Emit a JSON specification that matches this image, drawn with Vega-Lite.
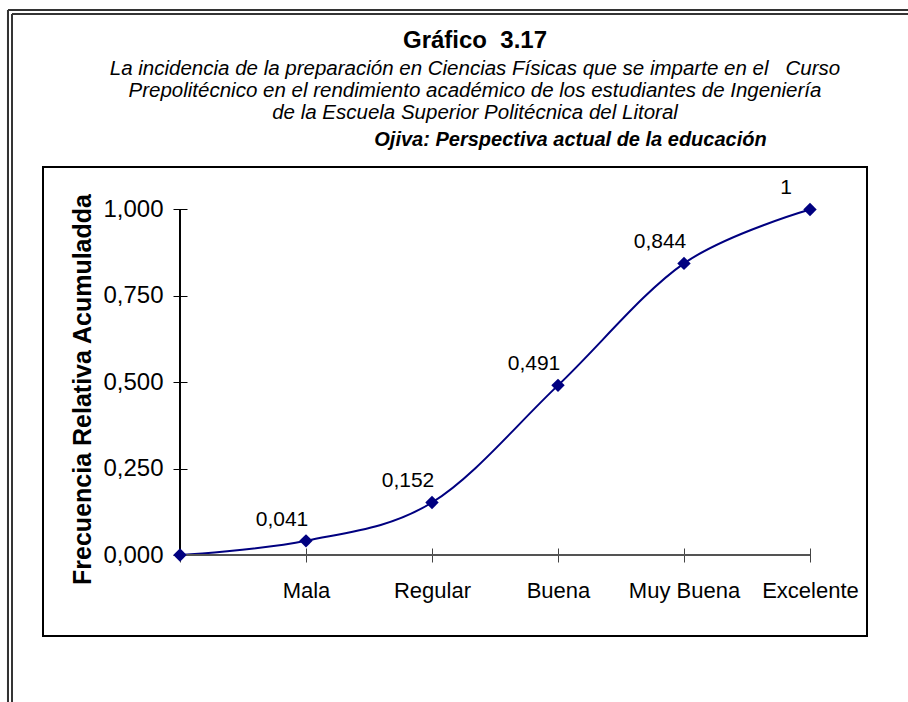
{
  "$schema": "https://vega.github.io/schema/vega-lite/v6.json",
  "width": 824,
  "height": 469,
  "autosize": {"type": "none"},
  "padding": {"left": 43, "top": 167, "right": 41, "bottom": 66},
  "background": "white",
  "config": {
    "font": "Liberation Sans",
    "locale": {"number": {"decimal": ",", "thousands": ".", "grouping": [3], "currency": ["$", ""]}},
    "view": {"stroke": "black", "strokeWidth": 2}
  },
  "title": {
    "text": "Gráfico\u00a0\u00a03.17",
    "subtitle": [
      "La incidencia de la preparación en Ciencias Físicas que se imparte en el\u00a0\u00a0 Curso",
      "Prepolitécnico en el rendimiento académico de los estudiantes de Ingeniería",
      "de la Escuela Superior Politécnica del Litoral"
    ],
    "font": "Liberation Sans",
    "fontSize": 24,
    "fontWeight": "bold",
    "color": "black",
    "subtitleFont": "Liberation Sans",
    "subtitleFontSize": 20.5,
    "subtitleFontStyle": "italic",
    "subtitleColor": "black",
    "subtitleLineHeight": 22,
    "subtitlePadding": 6,
    "anchor": "middle",
    "frame": "group",
    "offset": 0,
    "dx": 20,
    "dy": 115
  },
  "data": {
    "values": [
      {"k": 0, "cat": "", "v": 0},
      {"k": 1, "cat": "Mala", "v": 0.041},
      {"k": 2, "cat": "Regular", "v": 0.152},
      {"k": 3, "cat": "Buena", "v": 0.491},
      {"k": 4, "cat": "Muy Buena", "v": 0.844},
      {"k": 5, "cat": "Excelente", "v": 1}
    ]
  },
  "resolve": {"axis": {"x": "independent"}},
  "layer": [
    {
      "mark": {"type": "line", "color": "#000080", "strokeWidth": 2, "interpolate": "cardinal"},
      "encoding": {
        "x": {
          "field": "k",
          "type": "quantitative",
          "scale": {"domain": [-1.0873, 5.4524], "nice": false, "zero": false},
          "axis": {
            "orient": "bottom",
            "values": [0, 1, 2, 3, 4, 5],
            "offset": -88,
            "domain": false,
            "grid": false,
            "tickSize": 14,
            "tickColor": "#444444",
            "tickWidth": 1,
            "labelExpr": "['', 'Mala', 'Regular', 'Buena', 'Muy Buena', 'Excelente'][datum.value]",
            "labelFont": "Liberation Sans",
            "labelFontSize": 22,
            "labelColor": "black",
            "labelPadding": 18,
            "labelFlush": false,
            "labelOverlap": false,
            "title": null
          }
        },
        "y": {
          "field": "v",
          "type": "quantitative",
          "scale": {"domain": [-0.2344, 1.123], "nice": false, "zero": false},
          "axis": {
            "values": [0, 0.25, 0.5, 0.75, 1],
            "format": ".3f",
            "offset": -144,
            "domain": false,
            "grid": false,
            "tickSize": 14,
            "tickColor": "black",
            "tickWidth": 1,
            "labelFont": "Liberation Sans",
            "labelFontSize": 24,
            "labelColor": "black",
            "labelPadding": 10,
            "labelOverlap": false,
            "title": "Frecuencia Relativa Acumuladda",
            "titleFont": "Liberation Sans",
            "titleFontSize": 25,
            "titleFontWeight": "bold",
            "titleColor": "black",
            "titleAngle": 270,
            "titleX": -105,
            "titleY": 222,
            "titleAlign": "center",
            "titleBaseline": "middle"
          }
        }
      }
    },
    {
      "mark": {"type": "rule", "color": "#333333", "strokeWidth": 2},
      "encoding": {
        "x": {"datum": -1.3651, "type": "quantitative", "axis": null},
        "x2": {"datum": 5.794},
        "y": {"datum": 1.5774, "type": "quantitative"}
      }
    },
    {
      "mark": {"type": "rule", "color": "#333333", "strokeWidth": 1},
      "encoding": {
        "x": {"datum": -1.3333, "type": "quantitative", "axis": null},
        "x2": {"datum": 5.794},
        "y": {"datum": 1.5658, "type": "quantitative"}
      }
    },
    {
      "mark": {"type": "rule", "color": "#333333", "strokeWidth": 2},
      "encoding": {
        "x": {"datum": -1.3651, "type": "quantitative", "axis": null},
        "y": {"datum": 1.5774, "type": "quantitative"},
        "y2": {"datum": -0.4342}
      }
    },
    {
      "mark": {"type": "rule", "color": "#333333", "strokeWidth": 1},
      "encoding": {
        "x": {"datum": -1.3333, "type": "quantitative", "axis": null},
        "y": {"datum": 1.5658, "type": "quantitative"},
        "y2": {"datum": -0.4342}
      }
    },
    {
      "mark": {"type": "rule", "color": "black", "strokeWidth": 1},
      "encoding": {
        "x": {"datum": 0, "type": "quantitative", "axis": null},
        "y": {"datum": 0, "type": "quantitative"},
        "y2": {"datum": 1}
      }
    },
    {
      "mark": {"type": "rule", "color": "#555555", "strokeWidth": 1.5},
      "encoding": {
        "x": {"datum": 0, "type": "quantitative", "axis": null},
        "x2": {"datum": 5},
        "y": {"datum": 0, "type": "quantitative"}
      }
    },
    {
      "mark": {"type": "point", "shape": "diamond", "filled": true, "size": 180, "color": "#000080", "opacity": 1},
      "encoding": {
        "x": {"field": "k", "type": "quantitative", "axis": null},
        "y": {"field": "v", "type": "quantitative"}
      }
    },
    {
      "transform": [{"filter": "datum.v > 0"}],
      "mark": {"type": "text", "fontSize": 21, "font": "Liberation Sans", "color": "black", "align": "center", "baseline": "bottom", "dx": -24, "dy": -11},
      "encoding": {
        "x": {
          "field": "k",
          "type": "quantitative",
          "axis": {
            "orient": "top",
            "domain": false,
            "ticks": false,
            "labels": false,
            "grid": false,
            "title": "Ojiva: Perspectiva actual de la educación",
            "titleFont": "Liberation Sans",
            "titleFontSize": 20,
            "titleFontWeight": "bold",
            "titleFontStyle": "italic",
            "titleColor": "black",
            "titleX": 527,
            "titleY": -28,
            "titleAlign": "center",
            "titleBaseline": "middle"
          }
        },
        "y": {"field": "v", "type": "quantitative"},
        "text": {"field": "v", "type": "quantitative", "format": "~g"}
      }
    }
  ]
}
